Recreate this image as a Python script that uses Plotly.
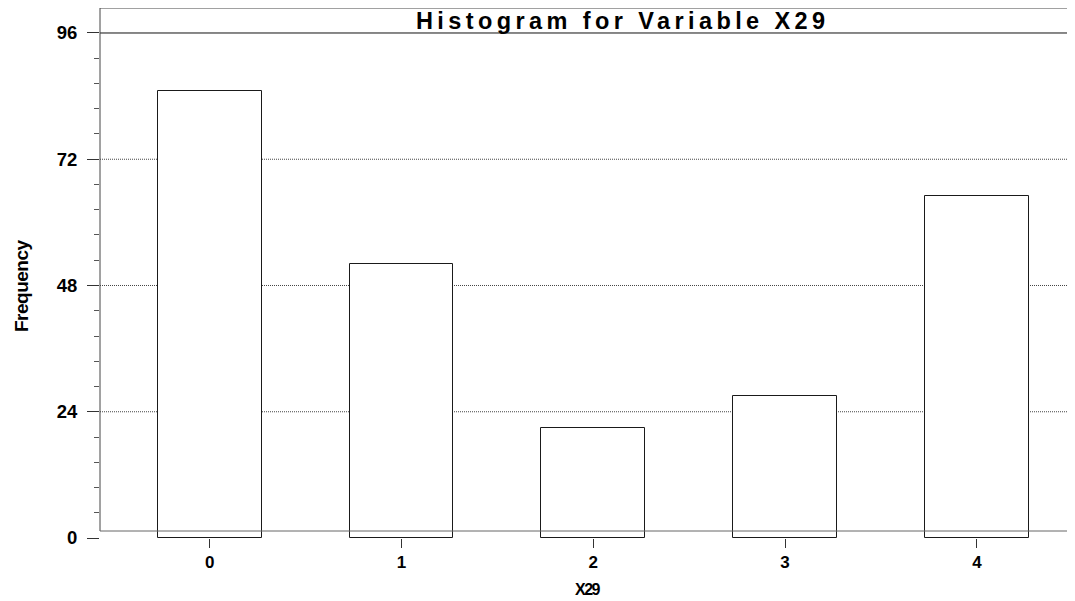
import plotly.graph_objects as go

# Data
categories = [0, 1, 2, 3, 4]
frequencies = [85, 52, 21, 27, 65]
y_tick_vals = [0, 24, 48, 72, 96]
x_tick_labels = ["0", "1", "2", "3", "4"]

FONT = "Liberation Sans, Arial, sans-serif"

# the page body has an 8px margin, so the figure is laid out 8px up/left
PW = 983.0  # plot width in px
PH = 530.0  # plot height in px
CAT_PX = 191.8  # px per category


def px_x(page_x):
    return (page_x - 100) / PW


def px_y(page_y):
    return (538 - page_y) / PH


fig = go.Figure()
fig.add_trace(go.Bar(
    x=categories, y=frequencies, width=0.542,
    marker=dict(color="white", line=dict(color="#1a1a1a", width=1)),
    showlegend=False, hoverinfo="x+y",
))

shapes = []
for v in y_tick_vals[1:-1]:
    shapes.append(dict(type="line", xref="paper", yref="y", x0=0, x1=1, y0=v, y1=v,
                       line=dict(color="#444444", width=1, dash="1px,1px"), layer="below"))
shapes.append(dict(type="line", xref="paper", yref="y", x0=0, x1=1,
                   y0=y_tick_vals[-1], y1=y_tick_vals[-1],
                   line=dict(color="#111111", width=1)))
# frame: top border, left axis, bottom axis line
shapes.append(dict(type="line", xref="paper", yref="paper", x0=0, x1=1, y0=1, y1=1,
                   line=dict(color="#444444", width=1)))
shapes.append(dict(type="line", xref="paper", yref="paper", x0=0, x1=0, y0=px_y(531), y1=1,
                   line=dict(color="#444444", width=1)))
shapes.append(dict(type="line", xref="paper", yref="paper", x0=0, x1=1, y0=px_y(531), y1=px_y(531),
                   line=dict(color="#666666", width=1)))

annotations = [
    dict(text='<b><span style="letter-spacing:4.4px">Histogram for Variable X29</span></b>',
         xref="paper", yref="paper", x=px_x(414), y=px_y(21), showarrow=False,
         font=dict(family=FONT, size=23.5, color="black"), xanchor="left", yanchor="middle"),
    dict(text='<b><span style="letter-spacing:-1.5px">X29</span></b>', xref="paper", yref="paper",
         x=px_x(588), y=px_y(589), showarrow=False,
         font=dict(family=FONT, size=16, color="black"), xanchor="center", yanchor="middle"),
    dict(text='<b><span style="letter-spacing:-0.5px">Frequency</span></b>', xref="paper", yref="paper",
         x=px_x(21), y=px_y(286), showarrow=False, textangle=-90,
         font=dict(family=FONT, size=19, color="black"), xanchor="center", yanchor="middle"),
]

fig.update_layout(
    width=1075, height=601,
    margin=dict(l=92, r=0, t=0, b=71, pad=0),
    paper_bgcolor="white", plot_bgcolor="white",
    shapes=shapes, annotations=annotations,
    font=dict(family=FONT, color="black"),
    bargap=0,
)
x0 = -(209.7 - 100) / CAT_PX
fig.update_xaxes(
    range=[x0, x0 + PW / CAT_PX], tickvals=categories, ticktext=x_tick_labels,
    showgrid=False, zeroline=False, showline=False,
    ticks="outside", ticklen=9, tickcolor="#333333", tickwidth=1,
    tickfont=dict(family=FONT, size=17, color="black", weight="bold"),
)
fig.update_yaxes(
    range=[0, 100.75], tickvals=y_tick_vals,
    showgrid=False, zeroline=False, showline=False,
    ticks="outside", ticklen=12, tickcolor="#333333", tickwidth=1,
    ticklabelstandoff=6,
    tickfont=dict(family=FONT, size=18.5, color="black", weight="bold"),
    minor=dict(dtick=4.8, tick0=0, ticks="outside", ticklen=5, tickcolor="#555555", showgrid=False),
)

fig.write_html("out.html")
